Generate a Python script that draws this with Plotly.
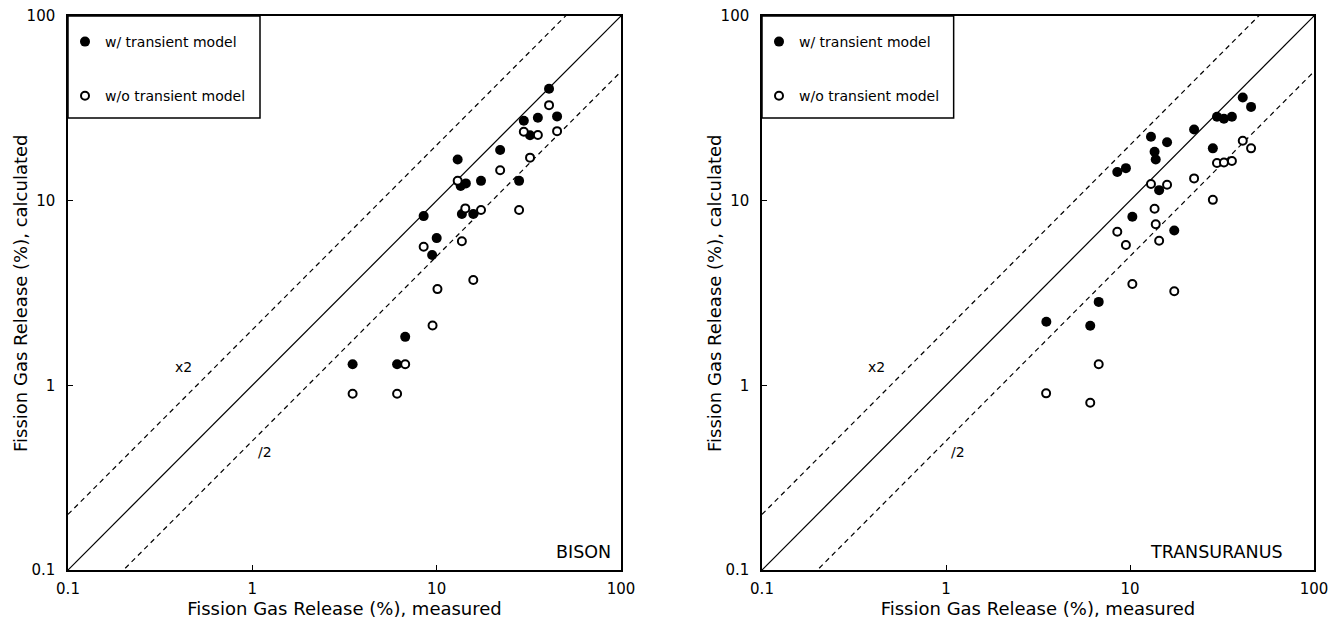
import plotly.graph_objects as go

# ---- data ----
bison_meas_w = [3.5, 6.1, 6.75, 8.5, 9.45, 10.0, 13.0, 13.5, 14.4, 13.7, 15.8, 17.4, 22.1, 28.0, 29.7, 32.1, 35.4, 40.7, 45.0]
bison_calc_w = [1.3, 1.3, 1.83, 8.25, 5.08, 6.27, 16.7, 12.0, 12.4, 8.46, 8.46, 12.8, 18.8, 12.8, 27.1, 22.6, 28.1, 40.4, 28.6]
bison_meas_wo = [3.5, 6.1, 6.75, 9.5, 10.1, 15.8, 8.5, 13.7, 14.3, 17.4, 13.0, 22.1, 28.0, 32.1, 29.7, 35.4, 40.7, 45.0]
bison_calc_wo = [0.9, 0.9, 1.3, 2.11, 3.32, 3.72, 5.63, 6.03, 9.08, 8.9, 12.8, 14.6, 8.9, 17.1, 23.6, 22.7, 32.9, 23.8]

tu_meas_w = [3.51, 6.08, 6.76, 10.3, 17.4, 8.53, 9.5, 13.0, 13.6, 13.8, 15.9, 14.4, 22.3, 28.2, 29.7, 32.4, 35.8, 41.0, 45.5]
tu_calc_w = [2.21, 2.10, 2.83, 8.18, 6.9, 14.3, 15.0, 22.2, 18.4, 16.7, 20.7, 11.4, 24.3, 19.2, 28.5, 27.8, 28.5, 36.2, 32.2]
tu_meas_wo = [3.5, 6.08, 6.76, 10.3, 17.4, 8.53, 9.5, 13.6, 13.8, 14.4, 13.0, 15.9, 22.3, 28.2, 29.7, 32.4, 35.8, 41.0, 45.5]
tu_calc_wo = [0.905, 0.805, 1.30, 3.54, 3.23, 6.79, 5.75, 9.04, 7.46, 6.07, 12.3, 12.2, 13.2, 10.1, 16.0, 16.1, 16.4, 21.1, 19.2]

ref_x = [0.1, 100]
panel_names = ["BISON", "TRANSURANUS"]
legend_names = ["w/ transient model", "w/o transient model"]
x_title = "Fission Gas Release (%), measured"
y_title = "Fission Gas Release (%), calculated"

FONT = "DejaVu Sans"
W, H = 1337, 623

fig = go.Figure()

panels = [
    ("x", "y", "legend", bison_meas_w, bison_calc_w, bison_meas_wo, bison_calc_wo),
    ("x2", "y2", "legend2", tu_meas_w, tu_calc_w, tu_meas_wo, tu_calc_wo),
]

for xa, ya, lg, mw, cw, mwo, cwo in panels:
    # reference lines
    fig.add_trace(go.Scatter(x=ref_x, y=ref_x, mode="lines", xaxis=xa, yaxis=ya,
                             line=dict(color="black", width=1.2), showlegend=False, hoverinfo="skip"))
    fig.add_trace(go.Scatter(x=ref_x, y=[v * 2 for v in ref_x], mode="lines", xaxis=xa, yaxis=ya,
                             line=dict(color="black", width=1.2, dash="5px,4px"), showlegend=False, hoverinfo="skip"))
    fig.add_trace(go.Scatter(x=ref_x, y=[v / 2 for v in ref_x], mode="lines", xaxis=xa, yaxis=ya,
                             line=dict(color="black", width=1.2, dash="5px,4px"), showlegend=False, hoverinfo="skip"))
    fig.add_trace(go.Scatter(x=mw, y=cw, mode="markers", xaxis=xa, yaxis=ya, name=legend_names[0],
                             legend=lg, legendgroup=lg + "a",
                             marker=dict(symbol="circle", size=10, color="black", line=dict(width=0))))
    fig.add_trace(go.Scatter(x=mwo, y=cwo, mode="markers", xaxis=xa, yaxis=ya, name=legend_names[1],
                             legend=lg, legendgroup=lg + "b",
                             marker=dict(symbol="circle", size=8, color="white", line=dict(width=2, color="black"))))

axis_common = dict(type="log", range=[-1, 2], dtick=1, showgrid=False, zeroline=False,
                   showline=True, linecolor="black", linewidth=1.5, mirror=True,
                   ticks="inside", ticklen=5, tickcolor="black", tickwidth=1, automargin=False,
                   tickfont=dict(family=FONT, size=15, color="black"))

x_dom = [[68 / W, 621 / W], [762 / W, 1314 / W]]
y_dom = [1 - 570 / H, 1 - 16 / H]

xt = dict(text=x_title, font=dict(size=18), standoff=4)

fig.update_layout(
    width=W, height=H, margin=dict(l=0, r=0, t=0, b=0, autoexpand=False),
    paper_bgcolor="white", plot_bgcolor="white",
    font=dict(family=FONT, color="black"),
    xaxis=dict(domain=x_dom[0], anchor="y", title=xt, ticklabelstandoff=4, **axis_common),
    yaxis=dict(domain=y_dom, anchor="x", ticklabelstandoff=8, **axis_common),
    xaxis2=dict(domain=x_dom[1], anchor="y2", title=xt, ticklabelstandoff=4, **axis_common),
    yaxis2=dict(domain=y_dom, anchor="x2", ticklabelstandoff=8, **axis_common),
    legend=dict(x=65 / W, y=1 - 26 / H, xanchor="left", yanchor="top", bgcolor="rgba(0,0,0,0)",
                borderwidth=0, font=dict(family=FONT, size=14), tracegroupgap=33),
    legend2=dict(x=759 / W, y=1 - 26 / H, xanchor="left", yanchor="top", bgcolor="rgba(0,0,0,0)",
                 borderwidth=0, font=dict(family=FONT, size=14), tracegroupgap=33),
    showlegend=True,
)

shapes = []
annotations = []
for i, (xa, ya) in enumerate([("x", "y"), ("x2", "y2")]):
    shapes.append(dict(type="rect", xref=xa + " domain", yref=ya + " domain",
                       x0=0, x1=(260 - 68) / 553, y0=1 - (118 - 16) / 554, y1=1,
                       line=dict(color="black", width=1.5), fillcolor="rgba(0,0,0,0)"))
    annotations.append(dict(text="x2", x=-0.376, y=0.1, xref=xa, yref=ya, showarrow=False,
                            font=dict(family=FONT, size=14, color="black")))
    annotations.append(dict(text="/2", x=0.066, y=-0.36, xref=xa, yref=ya, showarrow=False,
                            font=dict(family=FONT, size=14, color="black")))
    annotations.append(dict(text=panel_names[i], x=0.9855 if i == 0 else 0.9475, y=0.033,
                            xref=xa + " domain", yref=ya + " domain", xanchor="right", yanchor="middle",
                            showarrow=False, font=dict(family=FONT, size=17.5, color="black")))
    # y-axis title
    annotations.append(dict(text=y_title, textangle=-90, x=(x_dom[i][0] * W - 48) / W, y=0.5,
                            xref="paper", yref=ya + " domain", xanchor="center", yanchor="middle",
                            showarrow=False, font=dict(family=FONT, size=18, color="black")))

fig.update_layout(shapes=shapes, annotations=annotations)

fig.write_html("out.html")
